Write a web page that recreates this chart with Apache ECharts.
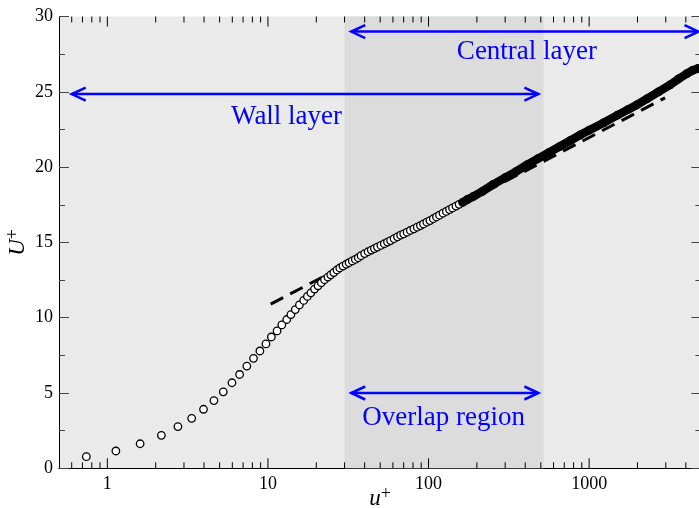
<!DOCTYPE html>
<html><head><meta charset="utf-8">
<script src="https://cdn.jsdelivr.net/npm/echarts@6/dist/echarts.min.js"></script>
<style>html,body{margin:0;padding:0;background:#fff}#c{width:699px;height:508px}</style>
</head><body><div id="c"></div>
<script>
// DNS mean-velocity profile
const yPlus = [0.74,1.13,1.60,2.17,2.75,3.35,3.97,4.61,5.27,5.97,6.66,7.39,8.13,8.91,9.72,10.5,11.4,12.2,13.1,13.9,14.8,15.7,16.7,17.6,18.5,19.5,20.5,21.5,22.5,23.6,24.6,25.7,26.9,28.0,29.3,
  30.7,32,33.5,35,36.5,38,40,42,44,46,48,50.5,53,55.5,58,61,64,67,70,73.5,77,81,85,89,93,97.5,102,107,112,117,123,129,135,141,148,155,163,
  175,190,215,253,300,350,409,480,560,659,760,878,1000,1225,1500,1750,1978,2300,2700,3190,3600,4052,4400,4786];
const Uplus = [0.77,1.15,1.63,2.19,2.77,3.32,3.92,4.50,5.08,5.68,6.23,6.79,7.30,7.79,8.26,8.72,9.12,9.52,9.88,10.21,10.54,10.85,11.15,11.41,11.65,11.90,12.12,12.32,12.52,12.70,12.85,13.00,13.17,13.30,13.43,
  13.55,13.65,13.77,13.87,13.98,14.12,14.26,14.38,14.49,14.59,14.69,14.80,14.91,15.02,15.12,15.25,15.37,15.48,15.57,15.68,15.79,15.90,16.01,16.12,16.23,16.34,16.45,16.57,16.69,16.81,16.94,17.06,17.18,17.29,17.41,17.53,17.66,
  17.85,18.05,18.37,18.85,19.30,19.70,20.14,20.56,20.96,21.38,21.75,22.13,22.45,22.93,23.45,23.83,24.13,24.55,25.00,25.46,25.85,26.20,26.42,26.56];
const denseFrom = 163;           // beyond this y+ the symbols merge into a solid band
// log law (dashed)
const logLawYPlus = [10.4, 2970];
const logLawU = [10.9, 24.6];
// overlap region shading
const overlapRange = [30, 520];
// annotations
const arrowFrom = [33, 0.6, 33];
const arrowTo = [4800, 483, 483];
const arrowU = [29, 24.85, 5];
const labelTexts = ['Central layer', 'Wall layer', 'Overlap region'];
const labelYPlus = [410, 13.06, 124];
const labelU = [27.64, 23.33, 3.34];
// axes
const xTickLabels = [1, 10, 100, 1000];
const xMinorTicks = [0.6,0.7,0.8,0.9,2,3,4,5,6,7,8,9,20,30,40,50,60,70,80,90,200,300,400,500,600,700,800,900,2000,3000,4000];

const serif = 'Liberation Serif';
const profile = yPlus.map((v, i) => [v, Uplus[i]]);
const band = profile.filter(p => p[0] >= denseFrom);
const tickData = xTickLabels.map(v => [v, 0, 10]).concat(xMinorTicks.map(v => [v, 0, 6]));

const chart = echarts.init(document.getElementById('c'), null, {renderer: 'canvas'});

const axisCommon = {
  axisLine: {show: true, lineStyle: {color: '#000', width: 1}},
  splitLine: {show: false},
  nameMoveOverlap: false
};

chart.setOption({
  animation: false,
  backgroundColor: '#fff',
  grid: {left: 59, top: 16.5, width: 642.4, height: 451.8, show: true, backgroundColor: '#eaeaea', borderWidth: 0,
    containLabel: false, outerBoundsMode: 'none'},
  xAxis: [
    Object.assign({}, axisCommon, {
      type: 'log', logBase: 10, min: 0.5, max: 5000, position: 'bottom',
      axisTick: {show: false},
      axisLabel: {margin: 7, color: '#000', fontFamily: serif, fontSize: 18,
        formatter: v => { const m = xTickLabels.find(l => Math.abs(v / l - 1) < 1e-6); return m ? String(m) : ''; }},
      name: '{i|u}{s|+}', nameLocation: 'middle', nameGap: 17,
      nameTextStyle: {rich: {
        i: {fontFamily: serif, fontStyle: 'italic', fontSize: 23, color: '#000'},
        s: {fontFamily: serif, fontSize: 18, color: '#000', verticalAlign: 'top', padding: [0, 0, 10, 0]}
      }}
    }),
    Object.assign({}, axisCommon, {
      type: 'log', logBase: 10, min: 0.5, max: 5000, position: 'top',
      axisTick: {show: false},
      axisLabel: {show: false}
    })
  ],
  yAxis: [
    Object.assign({}, axisCommon, {
      type: 'value', min: 0, max: 30, interval: 5, position: 'left',
      axisTick: {show: true, inside: true, length: 10, lineStyle: {color: '#444'}},
      minorTick: {show: true, splitNumber: 2, length: 6, lineStyle: {color: '#444'}},
      minorSplitLine: {show: false},
      axisLabel: {margin: 6, color: '#000', fontFamily: serif, fontSize: 18},
      name: '{i|U}{s|+}', nameLocation: 'middle', nameGap: 27,
      nameTextStyle: {rich: {
        i: {fontFamily: serif, fontStyle: 'italic', fontSize: 23, color: '#000'},
        s: {fontFamily: serif, fontSize: 18, color: '#000', verticalAlign: 'top', padding: [0, 0, 10, 0]}
      }}
    }),
    Object.assign({}, axisCommon, {
      type: 'value', min: 0, max: 30, interval: 5, position: 'right',
      axisTick: {show: true, inside: true, length: 10, lineStyle: {color: '#444'}},
      minorTick: {show: true, splitNumber: 2, length: 6, lineStyle: {color: '#444'}},
      minorSplitLine: {show: false},
      axisLabel: {show: false}
    })
  ],
  series: [
    { // overlap-region shading
      type: 'line', data: [], z: 0, silent: true,
      markArea: {silent: true, itemStyle: {color: '#dcdcdc'},
        data: [[{xAxis: overlapRange[0]}, {xAxis: overlapRange[1]}]]}
    },
    { // ticks of the log axes (bottom and top), pointing inward
      type: 'custom', z: 1, silent: true,
      data: tickData,
      encode: {x: 0, y: 1},
      renderItem: (params, api) => {
        const p = api.coord([api.value(0), 0]);
        const len = api.value(2);
        const cs = params.coordSys;
        const top = cs.y, bottom = cs.y + cs.height;
        return {type: 'group', children: [
          {type: 'line', shape: {x1: p[0], y1: bottom, x2: p[0], y2: bottom - len}, style: {stroke: '#000', lineWidth: 1}},
          {type: 'line', shape: {x1: p[0], y1: top, x2: p[0], y2: top + len}, style: {stroke: '#000', lineWidth: 1}}
        ]};
      }
    },
    { // log law
      type: 'line', z: 3, silent: true, symbol: 'none',
      data: logLawYPlus.map((v, i) => [v, logLawU[i]]),
      lineStyle: {color: '#000', width: 3, type: [14, 8]}
    },
    { // profile symbols
      type: 'scatter', z: 4, silent: true,
      data: profile, symbol: 'circle', symbolSize: 7.5,
      itemStyle: {color: '#fff', borderColor: '#000', borderWidth: 1.3, opacity: 1}
    },
    { // dense part of the profile
      type: 'line', z: 5, silent: true, symbol: 'none', smooth: false,
      data: band, lineStyle: {color: '#000', width: 8.5, cap: 'round', join: 'round'}
    },
    { // double-headed arrows
      type: 'custom', z: 6, silent: true,
      data: arrowFrom.map((v, i) => [v, arrowU[i], arrowTo[i]]),
      encode: {x: [0, 2], y: 1},
      renderItem: (params, api) => {
        const a = api.coord([api.value(0), api.value(1)]);
        const b = api.coord([api.value(2), api.value(1)]);
        const hl = 14, hw = 6.5;
        const st = {stroke: '#0000ff', lineWidth: 2.5, fill: null};
        return {type: 'group', children: [
          {type: 'line', shape: {x1: a[0], y1: a[1], x2: b[0], y2: b[1]}, style: st},
          {type: 'polyline', shape: {points: [[a[0] + hl, a[1] - hw], [a[0], a[1]], [a[0] + hl, a[1] + hw]]}, style: st},
          {type: 'polyline', shape: {points: [[b[0] - hl, b[1] - hw], [b[0], b[1]], [b[0] - hl, b[1] + hw]]}, style: st}
        ]};
      }
    },
    { // annotation texts
      type: 'custom', z: 7, silent: true,
      data: labelYPlus.map((v, i) => [v, labelU[i], i]),
      encode: {x: 0, y: 1},
      renderItem: (params, api) => {
        const p = api.coord([api.value(0), api.value(1)]);
        return {type: 'text', x: p[0], y: p[1], style: {
          text: labelTexts[api.value(2)], fill: '#0000ff',
          font: '27px "Liberation Serif"', align: 'center', verticalAlign: 'middle'}};
      }
    }
  ]
});
</script>
</body></html>
